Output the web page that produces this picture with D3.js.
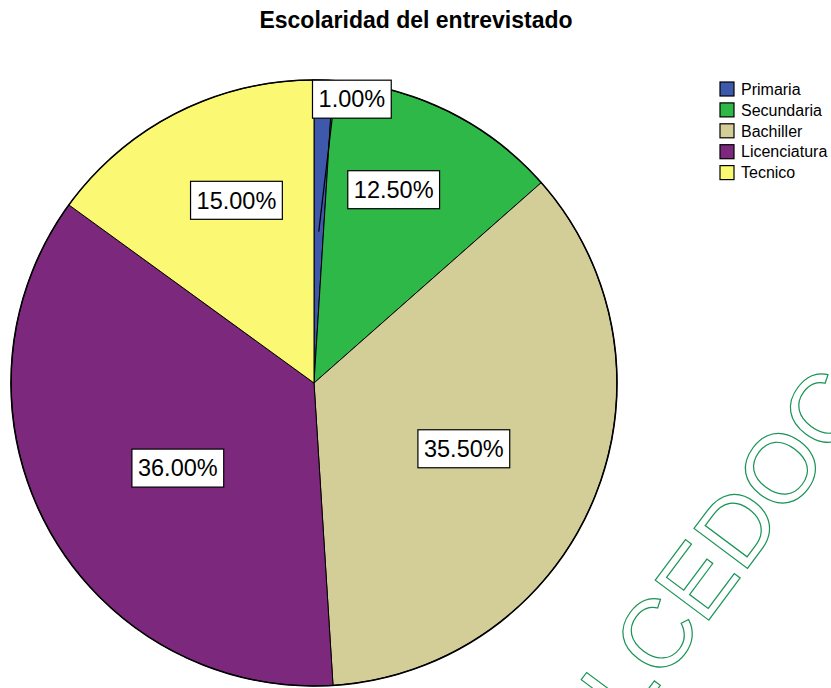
<!DOCTYPE html>
<html>
<head>
<meta charset="utf-8">
<script src="https://cdn.jsdelivr.net/npm/d3@7"></script>
<style>
  body { margin: 0; background: #fff; }
  svg { display: block; font-family: "Liberation Sans", Arial, sans-serif; }
</style>
</head>
<body>
<svg width="831" height="688"></svg>
<script>
const W = 831, H = 688;
const CX = 314, CY = 383, R = 303;

// data
const categories = ["Primaria", "Secundaria", "Bachiller", "Licenciatura", "Tecnico"];
const percents = [1.0, 12.5, 35.5, 36.0, 15.0];
const colors = ["#3E58AC", "#2EB848", "#D3CE97", "#7C287D", "#FBF873"];
const title = "Escolaridad del entrevistado";

// label placement: radius as fraction of R, angle nudge in degrees
const labelPlace = {
  Primaria:     {r: 0.945, da: 5.8, leader: true},
  Secundaria:   {r: 0.69,  da: -3.7},
  Bachiller:    {r: 0.54,  da: 1.2},
  Licenciatura: {r: 0.53,  da: -3.2},
  Tecnico:      {r: 0.655, da: 4}
};

const svg = d3.select("svg");

// watermark (runs off the page edge, like the original)
svg.append("text")
  .attr("transform", "translate(630,726) rotate(-53.3)")
  .attr("font-size", 97)
  .attr("fill", "none")
  .attr("stroke", "#189455")
  .attr("stroke-width", 1.2)
  .text("LCEDOC");

svg.append("text")
  .attr("x", 416).attr("y", 28)
  .attr("text-anchor", "middle")
  .attr("font-weight", "bold")
  .attr("font-size", 23)
  .text(title);

const data = categories.map((c, i) => ({cat: c, value: percents[i], color: colors[i]}));

const pie = d3.pie().sort(null).value(d => d.value);
const arcs = pie(data);
const arc = d3.arc().innerRadius(0).outerRadius(R);

const g = svg.append("g").attr("transform", `translate(${CX},${CY})`);

g.selectAll("path.slice")
  .data(arcs)
  .join("path")
  .attr("class", "slice")
  .attr("fill", d => d.data.color)
  .attr("stroke", "#000")
  .attr("stroke-width", 1)
  .attr("d", arc);

g.append("circle")
  .attr("r", R)
  .attr("fill", "none")
  .attr("stroke", "#000")
  .attr("stroke-width", 1.6);

// labels
const fmt = d3.format(".2f");
arcs.forEach(a => {
  const p = labelPlace[a.data.cat];
  const ang = (a.startAngle + a.endAngle) / 2 + p.da * Math.PI / 180;
  const lx = Math.sin(ang) * R * p.r;
  const ly = -Math.cos(ang) * R * p.r;
  const lg = g.append("g").attr("transform", `translate(${lx},${ly})`);
  const rect = lg.append("rect");
  const t = lg.append("text")
    .attr("text-anchor", "middle")
    .attr("dy", "0.35em")
    .attr("font-size", 23.5)
    .text(fmt(a.data.value) + "%");
  const bb = t.node().getBBox();
  const bw = bb.width + 12, bh = 38;
  rect.attr("x", -bw / 2).attr("y", -bh / 2)
    .attr("width", bw).attr("height", bh)
    .attr("fill", "#fff").attr("stroke", "#000").attr("stroke-width", 1.2);
  if (p.leader) {
    const mid = (a.startAngle + a.endAngle) / 2;
    const c = [Math.sin(mid) * R / 2, -Math.cos(mid) * R / 2];
    g.insert("line", "g")
      .attr("x1", c[0]).attr("y1", c[1])
      .attr("x2", lx - bw / 4).attr("y2", ly + bh / 2)
      .attr("stroke", "#000").attr("stroke-width", 1.2);
  }
});

// legend
const legend = svg.append("g").attr("transform", "translate(720,82)");
const rows = legend.selectAll("g")
  .data(data)
  .join("g")
  .attr("transform", (d, i) => `translate(0,${i * 20.9})`);
rows.append("rect")
  .attr("width", 14).attr("height", 14)
  .attr("fill", d => d.color)
  .attr("stroke", "#000").attr("stroke-width", 1.2);
rows.append("text")
  .attr("x", 21).attr("y", 7)
  .attr("dy", "0.36em")
  .attr("font-size", 16)
  .text(d => d.cat);
</script>
</body>
</html>
